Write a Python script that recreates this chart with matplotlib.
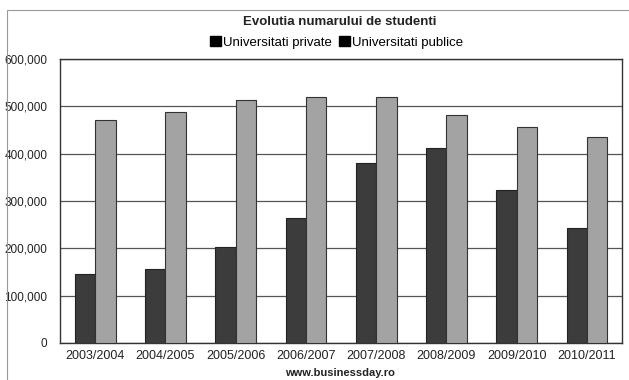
import matplotlib.pyplot as plt
import numpy as np
from matplotlib.patches import Patch, Rectangle

plt.rcParams['font.family'] = ['Liberation Sans', 'DejaVu Sans']

# student numbers per academic year
years = ["2003/2004", "2004/2005", "2005/2006", "2006/2007",
         "2007/2008", "2008/2009", "2009/2010", "2010/2011"]
private = [145000, 157000, 203000, 265000, 380000, 412000, 324000, 242000]
public = [470000, 487000, 514000, 520000, 519000, 481000, 456000, 435000]

fig = plt.figure(figsize=(6.29, 3.80), dpi=100)
ax = fig.add_axes([0.0954, 0.0974, 0.8936, 0.7476])

x = np.arange(len(years))
w = 0.29
ax.bar(x - w / 2, private, w, color="#3c3c3c", edgecolor="#222222", linewidth=0.8, zorder=3)
ax.bar(x + w / 2, public, w, color="#a3a3a3", edgecolor="#333333", linewidth=0.8, zorder=3)

ax.set_xlim(-0.5, len(years) - 0.5)
ax.set_ylim(0, 600000)
ax.set_yticks(range(0, 600001, 100000))
ax.set_yticklabels(["0" if v == 0 else f"{v:,}" for v in range(0, 600001, 100000)])
ax.set_xticks(x)
ax.set_xticklabels(years)
ax.tick_params(length=0, labelsize=8.5, colors="#222222")
ax.tick_params(axis="x", labelsize=9, pad=5)
ax.tick_params(axis="y", pad=9)
ax.yaxis.grid(True, color="#555555", linewidth=0.9, zorder=0)
for s in ax.spines.values():
    s.set_color("#333333")
    s.set_linewidth(1.0)

fig.text(0.54, 0.942, "Evolutia numarului de studenti", ha="center", va="center",
         fontsize=9.5, fontweight="bold", color="#222222")

handles = [Patch(facecolor="black", edgecolor="black"),
           Patch(facecolor="black", edgecolor="black")]
fig.legend(handles, ["Universitati private", "Universitati publice"],
           loc="center", bbox_to_anchor=(0.535, 0.888), ncol=2, frameon=False,
           fontsize=9.5, handlelength=0.8, handleheight=0.8, handletextpad=0.15,
           columnspacing=0.6, borderaxespad=0)

fig.text(0.54, 0.018, "www.businessday.ro", ha="center", va="center",
         fontsize=8, fontweight="bold", color="#222222")

# outer frame of the chart area
fig.patches.append(Rectangle((0.011, -0.01), 1.0, 0.985, transform=fig.transFigure,
                             fill=False, edgecolor="#999999", linewidth=0.8))

fig.savefig("out.png", dpi=100)
